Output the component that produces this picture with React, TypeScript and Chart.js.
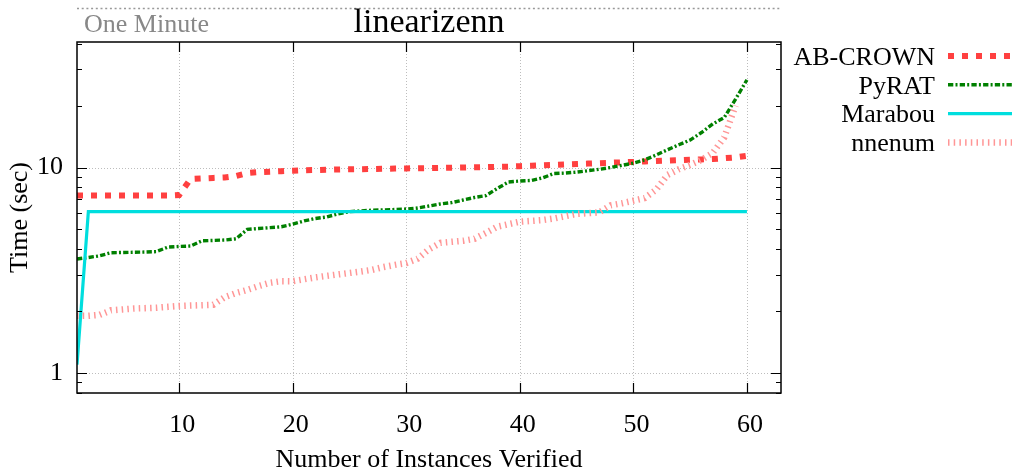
import React, { useEffect, useRef } from "react";
import { Chart, registerables } from "chart.js";

Chart.register(...registerables);

const CHART_TITLE = "linearizenn";
const X_TITLE = "Number of Instances Verified";
const Y_TITLE = "Time (sec)";
const REF_LABEL = "One Minute";
const REF_VALUE = 60;

const X_MIN = 1;
const X_MAX = 63;
const Y_MIN = 0.8;
const Y_MAX = 40.8;
const X_TICKS = [10, 20, 30, 40, 50, 60];
const Y_MAJOR = [1, 10];
const Y_TICKS = [0.8, 0.9, 1, 2, 3, 4, 5, 6, 7, 8, 9, 10, 20, 30, 40];

const SERIES_NAMES = ["AB-CROWN", "PyRAT", "Marabou", "nnenum"];

const abCrown = [
  7.3, 7.3, 7.3, 7.3, 7.3, 7.3, 7.3, 7.3, 7.3, 7.35,
  8.8, 8.85, 8.9, 8.95, 9.1, 9.4, 9.5, 9.55, 9.6, 9.65,
  9.7, 9.72, 9.75, 9.78, 9.8, 9.82, 9.84, 9.86, 9.88, 9.9,
  9.92, 9.94, 9.96, 9.98, 10.0, 10.02, 10.05, 10.08, 10.1, 10.15,
  10.2, 10.25, 10.3, 10.35, 10.4, 10.45, 10.5, 10.55, 10.6, 10.65,
  10.7, 10.75, 10.8, 10.85, 10.9, 10.95, 11.0, 11.1, 11.2, 11.4,
];

const pyrat = [
  3.59, 3.65, 3.72, 3.85, 3.86, 3.87, 3.88, 3.9, 4.1, 4.13,
  4.15, 4.4, 4.42, 4.44, 4.5, 5.0, 5.05, 5.1, 5.15, 5.3,
  5.5, 5.65, 5.75, 5.95, 6.1, 6.15, 6.2, 6.22, 6.25, 6.28,
  6.35, 6.5, 6.65, 6.75, 6.95, 7.15, 7.3, 7.9, 8.5, 8.6,
  8.65, 8.9, 9.35, 9.4, 9.5, 9.65, 9.8, 10.0, 10.25, 10.5,
  10.9, 11.5, 12.2, 12.9, 13.6, 14.8, 16.3, 17.5, 21.5, 26.7,
];

const marabou = [
  1.1, 6.1, 6.1, 6.1, 6.1, 6.1, 6.1, 6.1, 6.1, 6.1,
  6.1, 6.1, 6.1, 6.1, 6.1, 6.1, 6.1, 6.1, 6.1, 6.1,
  6.1, 6.1, 6.1, 6.1, 6.1, 6.1, 6.1, 6.1, 6.1, 6.1,
  6.1, 6.1, 6.1, 6.1, 6.1, 6.1, 6.1, 6.1, 6.1, 6.1,
  6.1, 6.1, 6.1, 6.1, 6.1, 6.1, 6.1, 6.1, 6.1, 6.1,
  6.1, 6.1, 6.1, 6.1, 6.1, 6.1, 6.1, 6.1, 6.1, 6.1,
];

const nnenum = [
  1.9, 1.9, 1.92, 2.02, 2.04, 2.06, 2.07, 2.08, 2.1, 2.12,
  2.13, 2.14, 2.15, 2.34, 2.45, 2.54, 2.65, 2.75, 2.8, 2.8,
  2.86, 2.92, 2.97, 3.02, 3.07, 3.12, 3.18, 3.28, 3.36, 3.43,
  3.6, 4.0, 4.3, 4.35, 4.4, 4.5, 4.8, 5.15, 5.3, 5.45,
  5.5, 5.55, 5.65, 5.8, 5.95, 6.0, 6.05, 6.55, 6.7, 6.9,
  7.1, 7.8, 9.2, 9.8, 10.3, 10.9, 11.8, 14.0, 20.0,
];

const SERIES_VALUES = [abCrown, pyrat, marabou, nnenum];
const SERIES_COLORS = ["rgb(255,64,64)", "rgb(0,128,0)", "rgb(0,222,222)", "rgb(255,150,150)"];
const SERIES_WIDTHS = [6, 3.4, 3.2, 6.5];
const SERIES_DASHES = [[6, 8], [5.3, 2.2, 2, 2.2], [], [1.5, 4.2]];

const FONT = "'Liberation Serif', 'Times New Roman', serif";

const toPoints = (vals: number[]) => vals.map((v, i) => ({ x: i + 1, y: v }));

const decorPlugin = {
  id: "decor",
  beforeDatasetsDraw(chart: any) {
    const { ctx, chartArea: a, scales } = chart;
    const x = scales.x;
    const y = scales.y;
    ctx.save();
    ctx.strokeStyle = "#bdbdbd";
    ctx.lineWidth = 1;
    ctx.setLineDash([1, 2]);
    X_TICKS.forEach((v) => {
      const px = Math.round(x.getPixelForValue(v)) + 0.5;
      ctx.beginPath();
      ctx.moveTo(px, a.top);
      ctx.lineTo(px, a.bottom);
      ctx.stroke();
    });
    Y_MAJOR.forEach((v) => {
      const py = Math.round(y.getPixelForValue(v)) + 0.5;
      ctx.beginPath();
      ctx.moveTo(a.left, py);
      ctx.lineTo(a.right, py);
      ctx.stroke();
    });
    ctx.restore();
  },
  afterDraw(chart: any) {
    const { ctx, chartArea: a, scales } = chart;
    const x = scales.x;
    const y = scales.y;
    ctx.save();
    ctx.setLineDash([]);
    ctx.strokeStyle = "#000";
    ctx.lineWidth = 1.5;
    ctx.strokeRect(a.left, a.top, a.right - a.left, a.bottom - a.top);
    ctx.lineWidth = 1.2;
    ctx.beginPath();
    X_TICKS.forEach((v) => {
      const px = Math.round(x.getPixelForValue(v)) + 0.5;
      ctx.moveTo(px, a.bottom);
      ctx.lineTo(px, a.bottom - 10);
      ctx.moveTo(px, a.top);
      ctx.lineTo(px, a.top + 10);
    });
    Y_TICKS.forEach((v) => {
      const py = Math.round(y.getPixelForValue(v)) + 0.5;
      const len = Y_MAJOR.includes(v) ? 10 : 5;
      ctx.moveTo(a.left, py);
      ctx.lineTo(a.left + len, py);
      ctx.moveTo(a.right, py);
      ctx.lineTo(a.right - len, py);
    });
    ctx.stroke();

    // one-minute reference line
    const ry = Math.round(y.getPixelForValue(REF_VALUE)) + 0.5;
    ctx.strokeStyle = "#999";
    ctx.lineWidth = 1.6;
    ctx.setLineDash([2, 2.7]);
    ctx.beginPath();
    ctx.moveTo(a.left, ry);
    ctx.lineTo(a.right, ry);
    ctx.stroke();
    ctx.setLineDash([]);

    ctx.fillStyle = "#888";
    ctx.font = `26px ${FONT}`;
    ctx.textAlign = "left";
    ctx.textBaseline = "alphabetic";
    ctx.fillText(REF_LABEL, a.left + 7, 32);

    ctx.fillStyle = "#000";
    ctx.font = `34px ${FONT}`;
    ctx.textAlign = "center";
    ctx.fillText(CHART_TITLE, (a.left + a.right) / 2, 32);

    // legend
    ctx.font = `26px ${FONT}`;
    ctx.textAlign = "right";
    chart.data.datasets.forEach((ds: any, i: number) => {
      const ly = 56 + i * 28.8;
      ctx.fillStyle = "#000";
      ctx.fillText(ds.label, 935, ly + 8.7);
      ctx.strokeStyle = ds.borderColor;
      ctx.lineWidth = ds.borderWidth;
      ctx.setLineDash(ds.borderDash || []);
      ctx.lineCap = "butt";
      ctx.beginPath();
      ctx.moveTo(948, ly);
      ctx.lineTo(1012, ly);
      ctx.stroke();
    });
    ctx.restore();
  },
};

export default function App() {
  const canvasRef = useRef<HTMLCanvasElement | null>(null);

  useEffect(() => {
    const canvas = canvasRef.current;
    if (!canvas) return;
    const datasets = SERIES_NAMES.map((name, i) => ({
      label: name,
      data: toPoints(SERIES_VALUES[i]),
      borderColor: SERIES_COLORS[i],
      backgroundColor: SERIES_COLORS[i],
      borderWidth: SERIES_WIDTHS[i],
      borderDash: SERIES_DASHES[i],
      borderCapStyle: "butt",
      borderJoinStyle: "miter",
      pointRadius: 0,
      tension: 0,
      fill: false,
      order: SERIES_NAMES.length - i,
    }));
    const chart = new Chart(canvas, {
      type: "line",
      data: { datasets } as any,
      options: {
        animation: false,
        responsive: false,
        devicePixelRatio: 1,
        layout: { padding: { left: 0, top: 42, right: 235, bottom: 0 } },
        plugins: { legend: { display: false }, tooltip: { enabled: false }, title: { display: false } },
        scales: {
          x: {
            type: "linear",
            min: X_MIN,
            max: X_MAX,
            grid: { display: false, drawTicks: false },
            border: { display: false },
            afterBuildTicks: (scale: any) => {
              scale.ticks = X_TICKS.map((v) => ({ value: v }));
            },
            afterFit: (scale: any) => {
              scale.height = 80;
            },
            ticks: {
              autoSkip: false,
              maxRotation: 0,
              padding: 17,
              labelOffset: 3,
              color: "#000",
              font: { family: FONT, size: 26 },
              callback: (v: any) => String(v),
            },
            title: {
              display: true,
              text: X_TITLE,
              color: "#000",
              font: { family: FONT, size: 26 },
              padding: { top: 0, bottom: -3 },
            },
          },
          y: {
            type: "logarithmic",
            min: Y_MIN,
            max: Y_MAX,
            grid: { display: false, drawTicks: false },
            border: { display: false },
            afterBuildTicks: (scale: any) => {
              scale.ticks = Y_TICKS.map((v) => ({ value: v }));
            },
            afterFit: (scale: any) => {
              scale.width = 77;
            },
            ticks: {
              autoSkip: false,
              padding: 14,
              color: "#000",
              font: { family: FONT, size: 26 },
              callback: (v: any) => (Y_MAJOR.includes(Number(v)) ? String(v) : ""),
            },
            title: {
              display: true,
              text: Y_TITLE,
              color: "#000",
              font: { family: FONT, size: 26 },
              padding: { top: 5, bottom: 0 },
            },
          },
        },
      } as any,
      plugins: [decorPlugin],
    });
    return () => chart.destroy();
  }, []);

  return (
    <div style={{ position: "fixed", left: 0, top: 0, width: 1016, height: 473, background: "#fff" }}>
      <canvas ref={canvasRef} width={1016} height={473} style={{ display: "block" }} />
    </div>
  );
}
